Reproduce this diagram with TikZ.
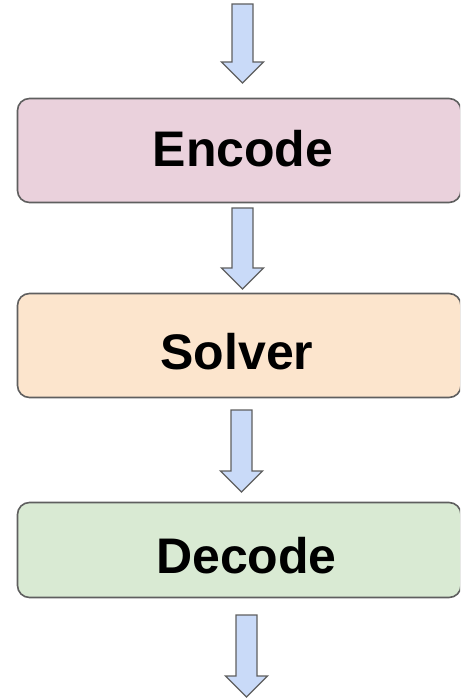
\documentclass[tikz,border=0pt]{standalone}
\usepackage{fontspec}
\setmainfont{Liberation Sans}
\definecolor{encfill}{HTML}{EAD1DC}
\definecolor{solfill}{HTML}{FCE5CD}
\definecolor{decfill}{HTML}{D9EAD3}
\definecolor{arrfill}{HTML}{C9DAF8}
\definecolor{edge}{HTML}{5F5F5F}
\newcommand{\blockarrow}[3]{% x, ytop, ytip
  \draw[barrow] (#1-10.5,-#2) -- (#1+10.5,-#2) -- (#1+10.5,-#3+21) -- (#1+21,-#3+21)
    -- (#1,-#3) -- (#1-21,-#3+21) -- (#1-10.5,-#3+21) -- cycle;}
\begin{document}
\begin{tikzpicture}[x=1pt,y=1pt,
  box/.style={draw=edge,line width=1.6pt,rounded corners=12pt,rectangle,
    minimum width=443.5pt,inner sep=0pt,outer sep=0pt},
  barrow/.style={draw=edge,fill=arrfill,line width=1.3pt,line join=miter},
  lbl/.style={font=\fontsize{50}{50}\selectfont\bfseries,anchor=base,inner sep=0pt}]
\useasboundingbox (0,0) rectangle (460,-700);
\clip (0,0) rectangle (460,-700);
% boxes
\node[box,fill=encfill,minimum height=104pt] (encbox) at (239.25,-150.5) {};
\node[box,fill=solfill,minimum height=104pt] (solbox) at (239.25,-345.5) {};
\node[box,fill=decfill,minimum height=95pt] (decbox) at (239.25,-550) {};
% labels
\node[lbl] (enc) at (243,-167) {Encode};
\node[lbl] (sol) at (237,-369) {Solver};
\node[lbl] (dec) at (246.5,-573) {Decode};
% arrows
\blockarrow{242.5}{4}{83}
\blockarrow{242.5}{208}{289}
\blockarrow{241.5}{410}{492}
\blockarrow{246.5}{615}{697}
\end{tikzpicture}
\end{document}
